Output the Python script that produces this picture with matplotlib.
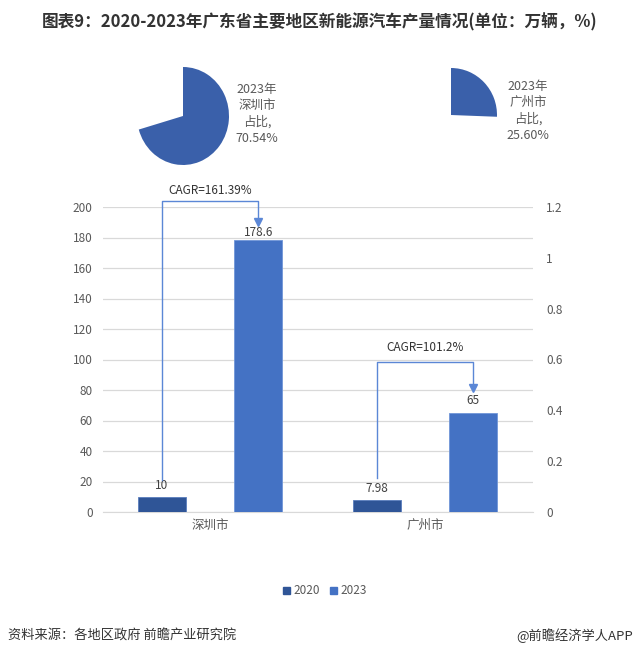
"""Guangdong NEV output by major city, 2020 vs 2023, with 2023 share pies."""
import matplotlib
matplotlib.use("Agg")
import matplotlib.pyplot as plt
import numpy as np
from matplotlib.patches import Patch

plt.rcParams["font.family"] = ["Noto Sans CJK SC", "DejaVu Sans"]

cities = ["深圳市", "广州市"]
years = ["2020", "2023"]
output_2020 = [10, 7.98]
output_2023 = [178.6, 65]
labels_2020 = ["10", "7.98"]
labels_2023 = ["178.6", "65"]
cagr_labels = ["CAGR=161.39%", "CAGR=101.2%"]
share_2023 = [70.54, 25.60]
share_labels = ["2023年\n深圳市\n占比,\n70.54%", "2023年\n广州市\n占比,\n25.60%"]
right_ticks = [0, 0.2, 0.4, 0.6, 0.8, 1.0, 1.2]

C2020 = "#2F5597"
C2023 = "#4472C4"
CPIE = "#3A60AA"
CLINE = "#5B87D6"
GRAY = "#595959"

W, H = 639, 657
fig = plt.figure(figsize=(W / 100, H / 100), dpi=100)
fig.patch.set_facecolor("white")


def box(x0, y0, x1, y1):
    # pixel box (top-left origin) -> figure fraction rect
    return [x0 / W, 1 - y1 / H, (x1 - x0) / W, (y1 - y0) / H]


fig.text(0.5, 1 - 22 / H, "图表9：2020-2023年广东省主要地区新能源汽车产量情况(单位：万辆，%)",
         ha="center", va="center", fontsize=12, fontweight="bold", color="#333333")

# share pies
pie_boxes = [box(137, 67, 229, 165), box(405, 68, 497, 162)]
label_pos = [(257, 114), (528, 111)]
for share, label, rect, (lx, ly) in zip(share_2023, share_labels, pie_boxes, label_pos):
    pax = fig.add_axes(rect)
    pax.pie([share, 100 - share], colors=[CPIE, "none"], startangle=90,
            counterclock=False, radius=1.0)
    pax.set_aspect("auto")
    pax.set_xlim(-1, 1)
    pax.set_ylim(-1, 1)
    pax.axis("off")
    fig.text(lx / W, 1 - ly / H, label, ha="center", va="center", fontsize=9,
             color=GRAY, linespacing=1.3)

# bar chart
ax = fig.add_axes(box(102.5, 207, 532.5, 512))
x = np.arange(len(cities))
off, bw = 0.225, 0.223
ax.bar(x - off, output_2020, bw, color=C2020, edgecolor="#5a7dbd", linewidth=0.6, zorder=3)
ax.bar(x + off, output_2023, bw, color=C2023, edgecolor="#7096d8", linewidth=0.6, zorder=3)
ax.set_xlim(-0.5, 1.5)
ax.set_ylim(0, 200)
ax.set_yticks(np.arange(0, 201, 20))
ax.yaxis.grid(True, color="#d9d9d9", linewidth=0.9, zorder=0)
ax.set_axisbelow(True)
for s in ax.spines.values():
    s.set_visible(False)
ax.spines["bottom"].set_visible(True)
ax.spines["bottom"].set_color("#d9d9d9")
ax.tick_params(axis="both", length=0, labelsize=8.5, labelcolor=GRAY)
ax.tick_params(axis="y", pad=7)
ax.set_xticks(x, cities)
ax.tick_params(axis="x", pad=5, labelsize=9)

lbl_off_2023 = [5, 7.8]
for i in range(len(cities)):
    ax.text(x[i] - off, output_2020[i] + 7.7, labels_2020[i], ha="center",
            va="center", fontsize=8.5, color="#404040")
    ax.text(x[i] + off, output_2023[i] + lbl_off_2023[i], labels_2023[i], ha="center",
            va="center", fontsize=8.5, color="#404040")

# CAGR connectors
tops = [204, 98.4]
starts = [21, 22.3]
tips = [187.5, 78.7]
text_y = [211, 108]
for i in range(len(cities)):
    xs = [x[i] - off, x[i] - off, x[i] + off, x[i] + off]
    ys = [starts[i], tops[i], tops[i], tips[i] + 3]
    ax.plot(xs, ys, color=CLINE, linewidth=1.0, clip_on=False, zorder=4)
    ax.plot([x[i] + off], [tips[i] + 2.5], marker="v", markersize=6, color=CLINE,
            clip_on=False, zorder=4)
    ax.text(x[i], text_y[i], cagr_labels[i], ha="center", va="center", fontsize=8.5,
            color="#333333", clip_on=False)

ax2 = ax.twinx()
ax2.set_ylim(0, 1.2)
ax2.set_yticks(right_ticks, ["0", "0.2", "0.4", "0.6", "0.8", "1", "1.2"])
for s in ax2.spines.values():
    s.set_visible(False)
ax2.tick_params(axis="y", length=0, labelsize=8.5, labelcolor=GRAY, pad=10)

handles = [Patch(color=C2020, label=years[0]), Patch(color=C2023, label=years[1])]
leg = fig.legend(handles=handles, loc="center", bbox_to_anchor=(325 / W, 1 - 591 / H),
                 ncol=2, frameon=False, handlelength=0.6, handleheight=0.6,
                 handletextpad=0.3, columnspacing=0.8, fontsize=8.5)
for t in leg.get_texts():
    t.set_color(GRAY)

fig.text(8 / W, 1 - 636 / H, "资料来源：各地区政府 前瞻产业研究院", ha="left", va="center",
         fontsize=9.5, color="#333333")
fig.text(633 / W, 1 - 636 / H, "@前瞻经济学人APP", ha="right", va="center",
         fontsize=9.5, color="#333333")

fig.savefig("out.png", dpi=100, facecolor="white")
